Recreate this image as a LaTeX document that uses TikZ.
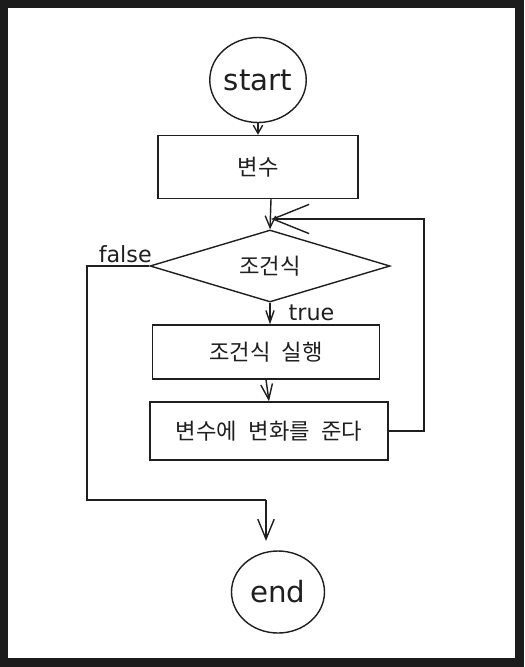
\documentclass[tikz,border=0pt]{standalone}
\usepackage{fontspec}
\setmainfont{DejaVu Sans}
\newfontfamily\kr{Noto Sans CJK KR}
\usetikzlibrary{arrows.meta,shapes.geometric}
\colorlet{frame edge}{black!89}
\colorlet{ink}{black!88}
\newcommand{\gap}{\hspace{0.5em}}
\tikzset{terminal/.style={draw=ink, ellipse, line width=1.2pt, inner sep=0pt,
        text=ink, font=\fontsize{25}{28}\selectfont},
    process/.style={draw=ink, rectangle, line width=1.2pt, text=ink, font=\kr\fontsize{19}{22}\selectfont},
    decision/.style={draw=ink, diamond, line width=1.2pt, aspect=3.4, inner sep=0pt,
        text=ink, font=\kr\fontsize{19}{22}\selectfont},
    link/.style={draw=ink, line width=1.2pt},
    tag/.style={text=ink, font=\fontsize{19}{21}\selectfont}}

\begin{document}
\begin{tikzpicture}[x=0.03cm, y=-0.03cm]
    \fill[frame edge] (0,0) rectangle (524,667);
    \fill[white] (8,8) rectangle (515,658);
    \useasboundingbox (0,0) rectangle (524,667);

    \node[terminal, minimum width=2.85cm, minimum height=2.55cm] (start) at (258,80) {start};
    \node[process, minimum width=6cm, minimum height=1.89cm] (var) at (258,167) {변수};
    \node[decision, minimum width=7.2cm, minimum height=2.16cm] (cond) at (270,266) {조건식};
    \node[process, minimum width=6.81cm, minimum height=1.62cm] (body) at (266,352) {조건식\gap 실행};
    \node[process, minimum width=7.14cm, minimum height=1.74cm] (update) at (269,431) {변수에\gap 변화를\gap 준다};
    \node[terminal, minimum width=2.79cm, minimum height=2.46cm] (end) at (278,592) {end};

    \coordinate (merge) at (271,219);
    \coordinate (loop) at (424,219);
    \coordinate (exit) at (87,500);
    \coordinate (join) at (266,500);

    \draw[link, -{Straight Barb[length=7pt, width=8pt]}] (start) -- (start |- var.north);
    \draw[link, -{Straight Barb[length=10pt, width=9pt]}] (var.south -| merge) -- (cond.north);
    \draw[link, -{Straight Barb[length=31pt, width=25pt]}] (update.east) -| (loop) -- (merge);
    \draw[link, -{Straight Barb[length=10pt, width=7pt]}] (cond.south) -- (body.north -| cond.south)
        node[tag, pos=0.45, anchor=west, xshift=12pt] {true};
    \draw[link] (cond.west) node[tag, anchor=south east, xshift=6pt, yshift=-1pt] {false}
        -| (exit) -- (join);
    \draw[link, -{Straight Barb[length=17pt, width=14pt]}] (join) -- ([yshift=8pt]join |- end.north);
    \draw[link, -{Straight Barb[length=13pt, width=10pt]}] (body.south) -- (update.north);
\end{tikzpicture}
\end{document}
